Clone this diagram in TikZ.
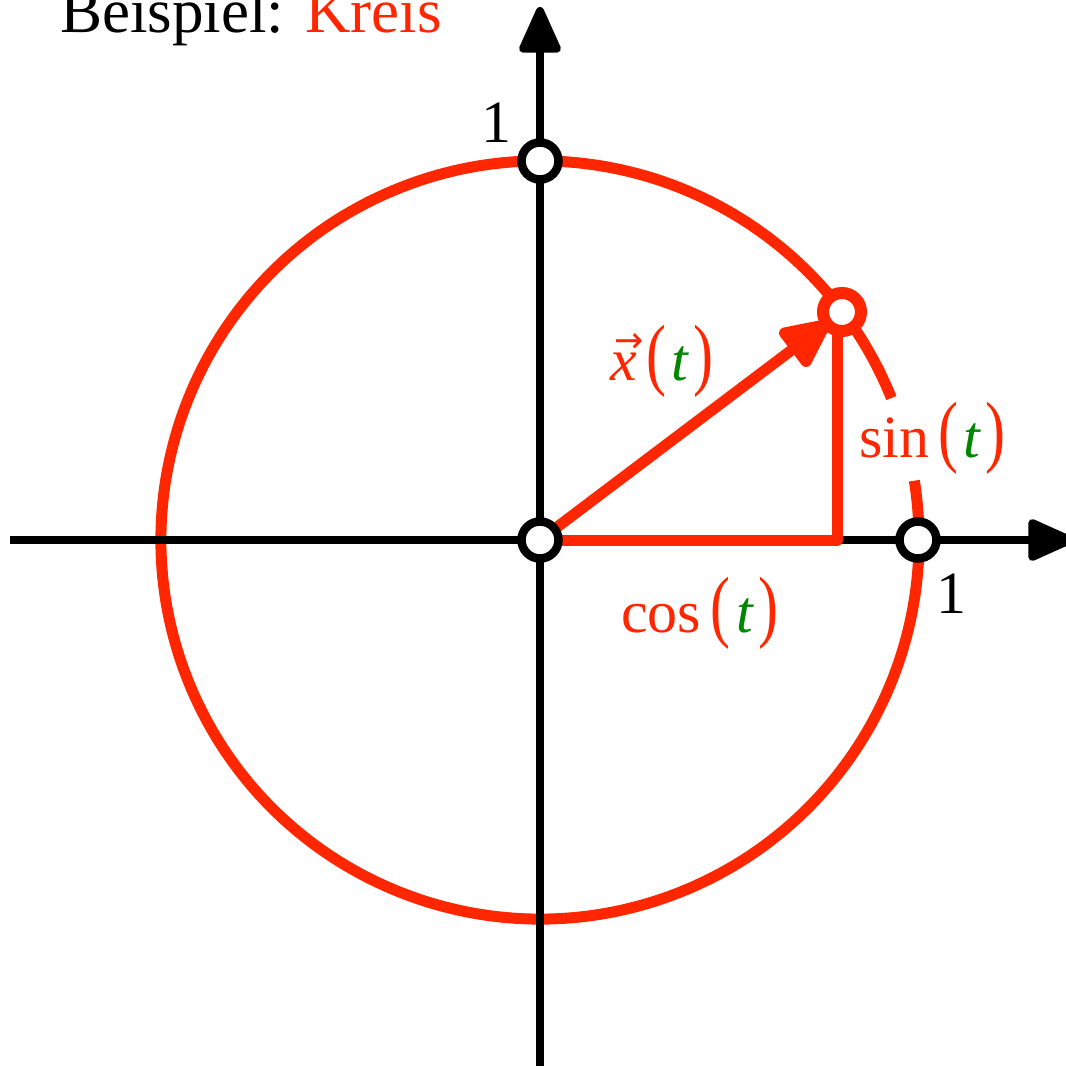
\documentclass[tikz,border=0pt]{standalone}
\usepackage{graphicx}
\usepackage{fontspec}
\setmainfont{Liberation Serif}
\newfontfamily\karrowfont{DejaVu Sans}
\usetikzlibrary{arrows.meta}
\definecolor{kred}{RGB}{255,38,0}
\definecolor{kgreen}{RGB}{0,135,0}
\newcommand{\kpar}[1]{\scalebox{1}[1.33]{#1}}
\newcommand{\kt}{\textcolor{kgreen}{\itshape t}}
\newcommand{\kvecx}{\rlap{\hspace{4pt}\raisebox{27pt}{\scalebox{0.58}[0.6]{\karrowfont →}}}{\itshape x}}
\begin{document}
\begin{tikzpicture}[x=1pt,y=1pt,
  axis/.style={line width=8pt, -{Triangle[length=52pt,width=44pt,round]}},
  redline/.style={kred, line width=11pt},
  bpt/.style={circle, draw=black, fill=white, line width=8.5pt, minimum size=37pt, inner sep=0pt},
  rpt/.style={circle, draw=kred, fill=white, line width=12pt, minimum size=38pt, inner sep=0pt},
  lab/.style={inner sep=0pt, anchor=base west, font=\fontsize{60}{72}\selectfont}]
\useasboundingbox (-540,-526) rectangle (526,540);
% circle with a gap behind the sin label
\draw[redline] (22:379) arc[start angle=22, end angle=369, radius=379];
% axes
\coordinate (xl) at (-530,0);
\coordinate (xr) at (534,0);
\coordinate (yb) at (0,-530);
\coordinate (yt) at (0,533);
\draw[axis] (xl) -- (xr);
\draw[axis] (yb) -- (yt);
% red construction
\coordinate (O) at (0,0);
\coordinate (P) at (302,228);
\coordinate (F) at (297,0);
\draw[redline, line join=round] (O) -- (F) -- (F |- P);
\draw[redline, -{Triangle[length=56pt,width=50pt,round]}, shorten >=16pt] (O) -- (P);
% points
\node[bpt] (o) at (O) {};
\node[bpt] (top) at (0,379) {};
\node[bpt] (right) at (378,0) {};
\node[rpt] (p) at (P) {};
% labels
\node[lab, text=black, font=\fontsize{63}{75}\selectfont] (title) at (-480,507) {Beispiel: \textcolor{kred}{Kreis}};
\node[lab] (one1) at (-59,397) {1};
\node[lab] (one2) at (396,-73) {1};
\node[lab, text=kred] (cos) at (81,-92) {cos\hspace{9pt}\kpar{(}\hspace{6pt}\kt\hspace{6pt}\kpar{)}};
\node[lab, text=kred] (sin) at (319,83) {sin\hspace{9pt}\kpar{(}\hspace{5pt}\kt\hspace{6pt}\kpar{)}};
\node[lab, text=kred] (vx) at (70,160) {\kvecx\hspace{10pt}\kpar{(}\hspace{5pt}\kt\hspace{5pt}\kpar{)}};
\end{tikzpicture}
\end{document}
